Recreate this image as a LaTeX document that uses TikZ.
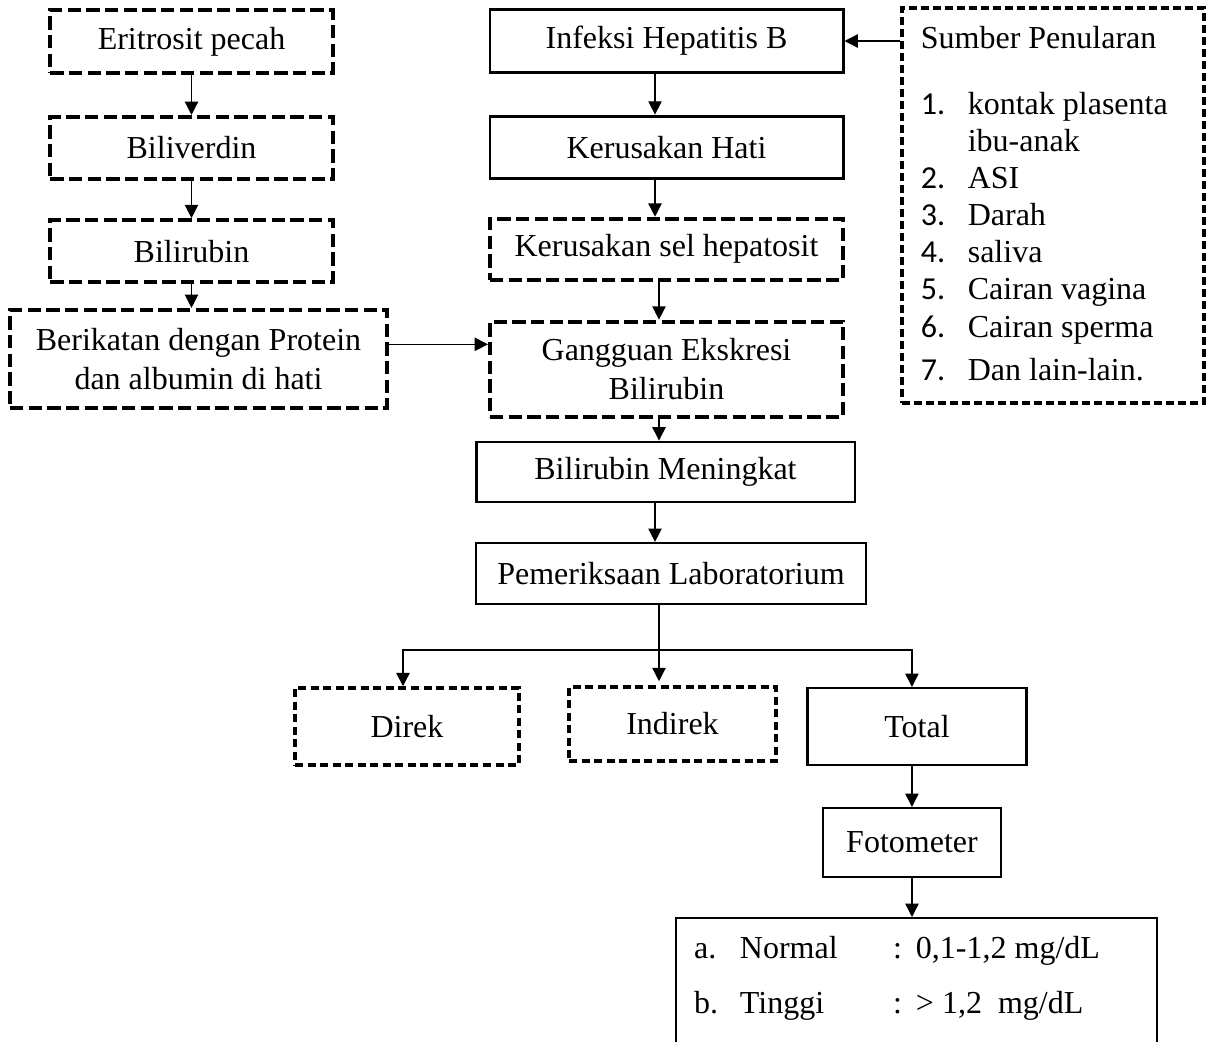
\documentclass[tikz,border=0pt,12pt]{standalone}
\usepackage{fontspec}
\setmainfont{Liberation Serif}
\newfontfamily\numfont{Carlito}
\usetikzlibrary{positioning, arrows.meta}

\begin{document}
\begin{tikzpicture}[
  x=0.375pt, y=-0.375pt,
  every node/.style={align=center, inner sep=0pt},
  dbox/.style={rectangle, draw=black, line width=1.5pt,
               dash pattern=on 5pt off 2pt},
  dlight/.style={rectangle, draw=black, line width=1.3pt,
                 dash pattern=on 3pt off 1.7pt},
  sbox/.style={rectangle, draw=black, line width=1.1pt},
  tbox/.style={rectangle, draw=black, line width=0.8pt},
  arr/.style={-{Triangle[length=5pt, width=5pt]}, line width=0.5pt}
]
\useasboundingbox (0,0) rectangle (1214,1042);
% Left column: breakdown of erythrocytes
\node[dbox, minimum width=106pt, minimum height=23.6pt] (erit) at (191.5,41.5) {Eritrosit pecah};
\node[dbox, minimum width=105.8pt, minimum height=23.3pt, below=15pt of erit] (biliv) {Biliverdin};
\node[dbox, minimum width=105.8pt, minimum height=23.3pt, below=13.9pt of biliv] (bilir) {Bilirubin};
\node[dbox, minimum width=141.4pt, minimum height=36.8pt] (ikat) at (198.5,359)
  {Berikatan dengan Protein\\dan albumin di hati};
% Middle column
\node[sbox, minimum width=132.4pt, minimum height=23.3pt] (infeksi) at (666.5,41) {Infeksi Hepatitis B};
\node[sbox, minimum width=132.4pt, minimum height=23.3pt, below=15.4pt of infeksi] (hati) {Kerusakan Hati};
\node[dbox, minimum width=132.4pt, minimum height=22.9pt, below=13.9pt of hati] (sel) {Kerusakan sel hepatosit};
\node[dbox, minimum width=132.4pt, minimum height=35.6pt, below=14.2pt of sel] (ganggu)
  {Gangguan Ekskresi\\Bilirubin};
\node[sbox, minimum width=142.1pt, minimum height=22.5pt] (naik) at (665.5,472) {Bilirubin Meningkat};
\node[tbox, minimum width=146.3pt, minimum height=22.9pt] (lab) at (671,573.5) {Pemeriksaan Laboratorium};
% Lab results
\node[dlight, minimum width=84pt, minimum height=28.9pt] (direk) at (407,726.5) {Direk};
\node[dlight, minimum width=77.6pt, minimum height=27.8pt] (indirek) at (672.5,724) {Indirek};
\node[tbox, minimum width=82.1pt, minimum height=28.9pt] (total) at (917,726.5) {Total};
\node[tbox, minimum width=66.8pt, minimum height=25.9pt] (foto) at (912,842.5) {Fotometer};
\node[tbox, minimum width=180.4pt, minimum height=53.3pt, anchor=north] (hasil) at (916.5,917) {};
\node[anchor=north west] (hasiltxt) at ([xshift=7pt, yshift=-5.3pt]hasil.north west) {%
  \begin{tabular}{@{}p{17.2pt}@{}p{57.4pt}@{}p{8.6pt}@{}l@{}}
  a. & Normal & : & 0,1-1,2 mg/dL \\[6pt]
  b. & Tinggi & : & > 1,2\ \ mg/dL \\
  \end{tabular}};
% Sources of infection
\node[rectangle, draw=black, line width=1.2pt, dash pattern=on 3pt off 1.5pt,
      minimum width=113.3pt, minimum height=148.1pt] (sumber) at (1053,205.5) {};
\node[anchor=north west, align=left] (sumbertxt) at ([xshift=7.5pt, yshift=-6pt]sumber.north west) {%
  \renewcommand{\arraystretch}{0.96}%
  \begin{tabular}{@{}p{17.6pt}@{}l@{}}
  \multicolumn{2}{@{}l@{}}{Sumber Penularan} \\[10.6pt]
  {\numfont 1.} & kontak plasenta \\
   & ibu-anak \\
  {\numfont 2.} & ASI \\
  {\numfont 3.} & Darah \\
  {\numfont 4.} & saliva \\
  {\numfont 5.} & Cairan vagina \\
  {\numfont 6.} & Cairan sperma \\[2.5pt]
  {\numfont 7.} & Dan lain-lain. \\
  \end{tabular}};
% Connectors
\coordinate (spine) at (655,0);
\coordinate (split) at (659,650);
\draw[arr] (erit.south) -- (erit.south |- biliv.north);
\draw[arr] (biliv.south) -- (biliv.south |- bilir.north);
\draw[arr] (bilir.south) -- (bilir.south |- ikat.north);
\draw[arr] ([yshift=5.5pt]ikat.east) -- ([yshift=5.5pt]ikat.east -| ganggu.west);
\draw[arr] (sumber.west |- infeksi.east) -- (infeksi.east);
\draw[arr] (infeksi.south -| spine) -- (hati.north -| spine);
\draw[arr] (hati.south -| spine) -- (sel.north -| spine);
\draw[arr] (sel.south -| split) -- (ganggu.north -| split);
\draw[arr] (ganggu.south -| split) -- (naik.north -| split);
\draw[arr] (naik.south -| spine) -- (lab.north -| spine);
\draw[arr] (lab.south -| split) -- ([yshift=1.5pt]indirek.north -| split);
\draw[arr] (split) -| ([xshift=-1.5pt]direk.north);
\draw[arr] (split) -| ([xshift=-1.9pt]total.north);
\draw[arr] ([xshift=-1.9pt]total.south) -- ([xshift=-1.9pt]total.south |- foto.north);
\draw[arr] (foto.south) -- (foto.south |- hasil.north);
\end{tikzpicture}
\end{document}
